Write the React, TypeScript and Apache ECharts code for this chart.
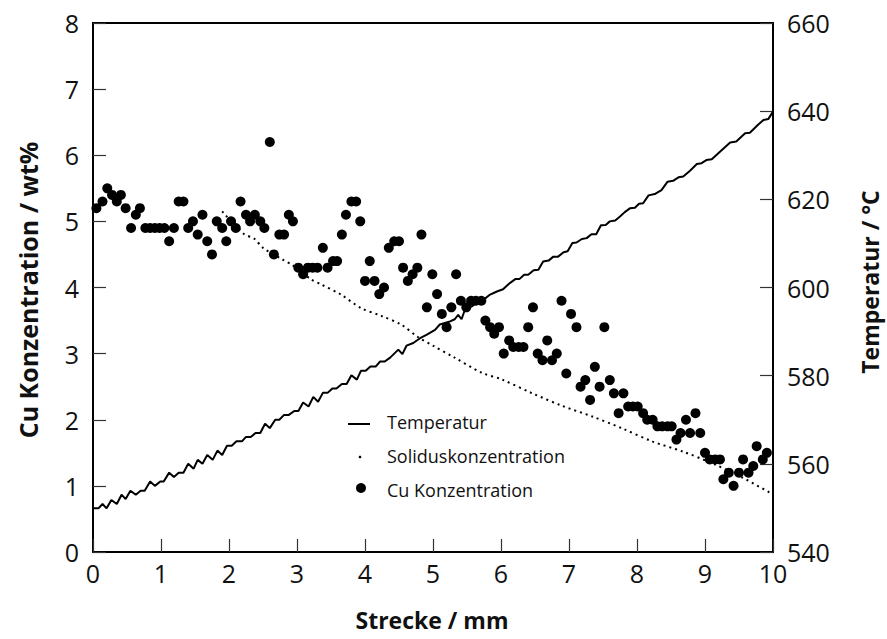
import React, { useEffect, useRef } from "react";
import * as echarts from "echarts";

const cuX = [0.05,0.14,0.21,0.28,0.35,0.41,0.48,0.56,0.63,0.69,0.77,0.84,0.91,0.98,1.05,1.12,1.19,1.26,1.33,1.40,1.47,1.54,1.61,1.68,1.75,1.82,1.90,1.96,2.03,2.10,2.17,2.25,2.31,2.38,2.46,2.52,2.60,2.66,2.74,2.81,2.88,2.94,3.02,3.09,3.16,3.23,3.30,3.38,3.45,3.53,3.59,3.66,3.72,3.80,3.87,3.93,4.00,4.07,4.14,4.21,4.28,4.35,4.43,4.50,4.56,4.63,4.70,4.77,4.83,4.91,4.99,5.06,5.13,5.20,5.27,5.34,5.41,5.49,5.56,5.63,5.71,5.77,5.84,5.90,5.97,6.04,6.12,6.18,6.26,6.33,6.40,6.47,6.54,6.61,6.68,6.75,6.82,6.89,6.96,7.03,7.11,7.17,7.24,7.31,7.38,7.45,7.52,7.60,7.66,7.73,7.80,7.87,7.94,8.01,8.09,8.15,8.23,8.30,8.37,8.45,8.51,8.58,8.64,8.72,8.78,8.86,8.93,9.00,9.07,9.15,9.22,9.27,9.35,9.42,9.50,9.56,9.64,9.71,9.76,9.85,9.91];
const cuY = [5.2,5.3,5.5,5.4,5.3,5.4,5.2,4.9,5.1,5.2,4.9,4.9,4.9,4.9,4.9,4.7,4.9,5.3,5.3,4.9,5.0,4.8,5.1,4.7,4.5,5.0,4.9,4.7,5.0,4.9,5.3,5.1,5.0,5.1,5.0,4.9,6.2,4.5,4.8,4.8,5.1,5.0,4.3,4.2,4.3,4.3,4.3,4.6,4.3,4.4,4.4,4.8,5.1,5.3,5.3,5.0,4.1,4.4,4.1,3.9,4.0,4.6,4.7,4.7,4.3,4.1,4.2,4.3,4.8,3.7,4.2,3.9,3.6,3.4,3.7,4.2,3.8,3.7,3.8,3.8,3.8,3.5,3.4,3.3,3.4,3.0,3.2,3.1,3.1,3.1,3.4,3.7,3.0,2.9,3.2,2.9,3.0,3.8,2.7,3.6,3.4,2.5,2.6,2.3,2.8,2.5,3.4,2.6,2.4,2.1,2.4,2.2,2.2,2.2,2.1,2.0,2.0,1.9,1.9,1.9,1.9,1.7,1.8,2.0,1.8,2.1,1.8,1.5,1.4,1.4,1.4,1.1,1.2,1.0,1.2,1.4,1.2,1.3,1.6,1.4,1.5];

const solidusX = [1.90,2.22,2.37,2.50,2.79,2.93,3.21,3.35,3.65,3.94,4.24,4.53,4.78,5.00,5.30,5.72,6.01,6.46,6.90,7.34,7.78,8.23,8.67,9.11,9.56,10.0];
const solidusY = [5.15,4.81,4.74,4.60,4.42,4.34,4.12,4.05,3.89,3.69,3.57,3.44,3.25,3.12,2.95,2.71,2.61,2.40,2.21,2.05,1.87,1.67,1.52,1.34,1.12,0.87];

const tempX = [0.00,0.08,0.14,0.20,0.27,0.35,0.42,0.48,0.55,0.63,0.70,0.76,0.84,0.91,0.99,1.04,1.12,1.19,1.26,1.33,1.40,1.48,1.54,1.61,1.68,1.76,1.83,1.90,1.97,2.04,2.11,2.19,2.25,2.32,2.39,2.46,2.53,2.60,2.68,2.74,2.81,2.88,2.96,3.02,3.09,3.17,3.24,3.31,3.38,3.45,3.52,3.58,3.66,3.73,3.80,3.88,3.94,4.01,4.08,4.16,4.22,4.29,4.37,4.49,4.55,4.61,4.71,4.81,4.91,5.03,5.10,5.25,5.32,5.37,5.42,5.47,5.57,5.64,5.74,5.84,5.94,6.03,6.13,6.21,6.27,6.34,6.40,6.48,6.55,6.62,6.70,6.77,6.84,6.92,6.98,7.05,7.11,7.19,7.26,7.33,7.40,7.47,7.54,7.60,7.68,7.75,7.82,7.90,7.97,8.03,8.09,8.17,8.26,8.36,8.45,8.53,8.61,8.68,8.78,8.88,8.95,9.02,9.10,9.22,9.37,9.46,9.59,9.66,9.78,9.86,9.93,10.0];
const tempY = [549.9,549.9,550.9,549.9,551.8,550.9,553.0,552.0,553.9,553.0,553.9,553.9,556.0,555.0,556.0,556.0,558.0,557.0,558.0,558.0,560.0,558.9,560.9,560.0,562.0,560.9,563.0,562.0,564.1,564.1,565.1,565.1,566.1,566.1,567.0,567.0,569.1,568.1,570.0,570.0,571.1,571.1,572.0,572.0,573.9,573.0,575.2,574.1,576.1,576.1,577.1,577.1,578.1,578.1,580.1,579.1,581.1,581.1,582.1,582.1,583.2,583.2,584.1,585.9,584.9,586.8,587.4,588.5,589.3,590.4,591.6,592.3,592.8,593.8,592.8,595.0,595.7,596.5,597.2,598.4,599.1,599.6,601.0,601.9,601.9,602.9,602.9,603.9,604.0,605.9,606.1,607.0,607.0,608.0,608.2,610.1,610.2,611.0,611.2,612.1,612.1,614.1,614.2,615.0,615.2,616.1,617.1,618.0,618.1,619.0,619.1,620.9,621.2,622.1,624.0,624.2,625.0,625.2,626.5,628.0,628.2,628.9,629.1,630.8,632.9,633.1,635.0,635.1,636.9,638.0,638.2,639.9];

const legendNames = ["Temperatur", "Soliduskonzentration", "Cu Konzentration"];
const xTitle = "Strecke / mm";
const yLeftTitle = "Cu Konzentration / wt%";
const yRightTitle = "Temperatur / °C";

const FONT = "'Open Sans', 'Noto Sans', sans-serif";

export default function App() {
  const ref = useRef<HTMLDivElement>(null);
  useEffect(() => {
    if (!ref.current) return;
    const chart = echarts.init(ref.current, undefined, { renderer: "svg" });
    const tickLabel = { fontSize: 25, color: "#111", fontFamily: FONT };
    const axisLine = { show: true, lineStyle: { color: "#000", width: 2 } };
    const axisTick = { show: true, inside: true, length: 13, lineStyle: { color: "#333", width: 1.2 } };
    chart.setOption({
      animation: false,
      backgroundColor: "#fff",
      grid: { left: 93, right: 114, top: 23, bottom: 87, show: true, borderColor: "#000", borderWidth: 2, containLabel: false },
      xAxis: {
        type: "value", min: 0, max: 10, interval: 1,
        axisLine, axisTick, splitLine: { show: false },
        axisLabel: { ...tickLabel, margin: 8 },
      },
      yAxis: [
        {
          type: "value", min: 0, max: 8, interval: 1, position: "left",
          axisLine, axisTick, splitLine: { show: false },
          axisLabel: { ...tickLabel, margin: 14 },
        },
        {
          type: "value", min: 540, max: 660, interval: 20, position: "right",
          axisLine, axisTick, splitLine: { show: false },
          axisLabel: { ...tickLabel, margin: 14 },
        },
      ],
      series: [
        {
          name: legendNames[0], type: "line", yAxisIndex: 1, showSymbol: false, symbol: "none",
          data: tempX.map((x, i) => [x, tempY[i]]),
          lineStyle: { color: "#000", width: 2 }, z: 3,
        },
        {
          name: legendNames[1], type: "line", yAxisIndex: 0, showSymbol: false, symbol: "none", smooth: 0.3,
          data: solidusX.map((x, i) => [x, solidusY[i]]),
          lineStyle: { color: "#000", width: 2, type: [2, 4] }, z: 2,
        },
        {
          name: legendNames[2], type: "scatter", yAxisIndex: 0, symbol: "circle", symbolSize: 10,
          data: cuX.map((x, i) => [x, cuY[i]]),
          itemStyle: { color: "#000", opacity: 1 }, z: 4,
        },
      ],
      graphic: [
        { type: "line", shape: { x1: 348, y1: 424, x2: 370, y2: 424 }, style: { stroke: "#000", lineWidth: 2 } },
        { type: "circle", shape: { cx: 360, cy: 457, r: 1.3 }, style: { fill: "#000" } },
        { type: "circle", shape: { cx: 361, cy: 488, r: 5 }, style: { fill: "#000" } },
        { type: "text", x: 387, y: 422, style: { text: legendNames[0], font: `18px ${FONT}`, fill: "#111", verticalAlign: "middle" } },
        { type: "text", x: 387, y: 456, style: { text: legendNames[1], font: `18px ${FONT}`, fill: "#111", verticalAlign: "middle" } },
        { type: "text", x: 387, y: 490, style: { text: legendNames[2], font: `18px ${FONT}`, fill: "#111", verticalAlign: "middle" } },
        { type: "text", x: 432, y: 620, style: { text: xTitle, font: `bold 23px ${FONT}`, fill: "#111", align: "center", verticalAlign: "middle" } },
        { type: "text", x: 28, y: 290, rotation: Math.PI / 2, style: { text: yLeftTitle, font: `bold 25px ${FONT}`, fill: "#111", align: "center", verticalAlign: "middle" } },
        { type: "text", x: 870, y: 282, rotation: Math.PI / 2, style: { text: yRightTitle, font: `bold 23px ${FONT}`, fill: "#111", align: "center", verticalAlign: "middle" } },
      ],
    });
    return () => chart.dispose();
  }, []);
  return <div ref={ref} style={{ width: 887, height: 639, position: "absolute", left: 0, top: 0 }} />;
}
